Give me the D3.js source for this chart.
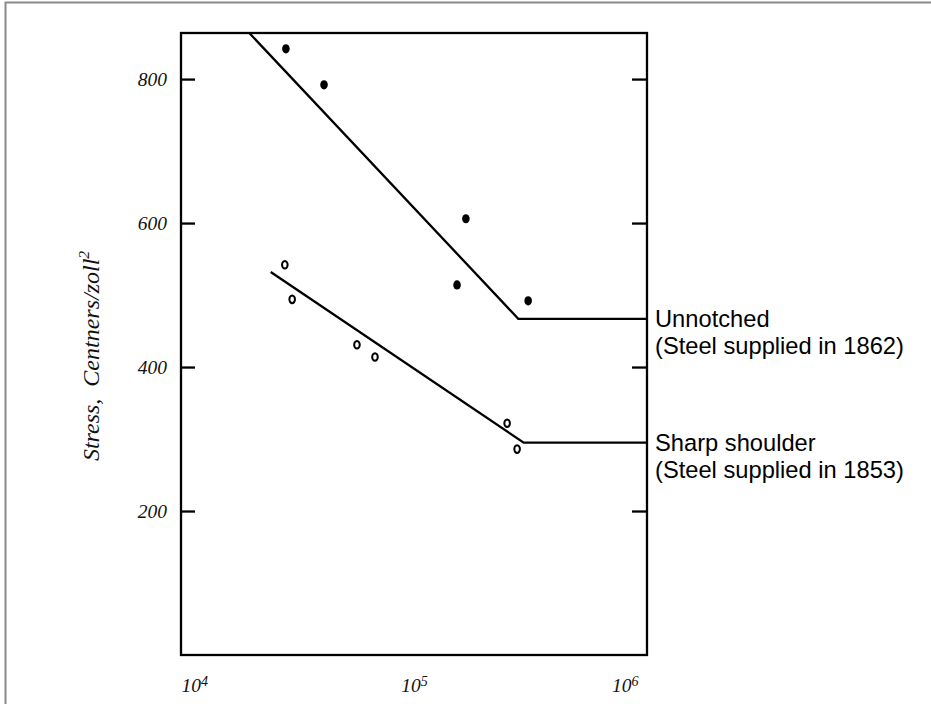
<!DOCTYPE html>
<html>
<head>
<meta charset="utf-8">
<script src="https://cdn.jsdelivr.net/npm/d3@7"></script>
<style>
	body { margin: 0; background: #fff; }
	svg { display: block; }
</style>
</head>
<body>
<script>
// Fatigue test data (cycles to failure vs stress)
const unnotchedCycles = [28200, 41100, 167000, 153000, 309000];
const unnotchedStress = [842, 792, 606, 514, 492];
const shoulderCycles = [27900, 30000, 56900, 68000, 251000, 277000];
const shoulderStress = [542, 494, 431, 414, 322, 286];

// Fitted lines (knee then endurance limit)
const unnotchedFitCycles = [19640, 280300, 1000000];
const unnotchedFitStress = [864, 467, 467];
const shoulderFitCycles = [24270, 295700, 1000000];
const shoulderFitStress = [532, 295, 295];

const yTicks = [200, 400, 600, 800];
const xTicks = [1e4, 1e5, 1e6];
const xTickExp = ["4", "5", "6"];
const unnotchedLabel = ["Unnotched", "(Steel supplied in 1862)"];
const shoulderLabel = ["Sharp shoulder", "(Steel supplied in 1853)"];

const w = 931;
const h = 704;
const box = { left: 181, right: 647, top: 33, bottom: 655 };

const svg = d3.select("body").append("svg").attr("width", w).attr("height", h);

// outer frame
svg.append("rect")
	.attr("x", 5.5)
	.attr("y", 2.5)
	.attr("width", 1000)
	.attr("height", 1000)
	.attr("fill", "none")
	.attr("stroke", "#8a8a8a")
	.attr("stroke-width", 2);

const xScale = d3.scaleLog().domain([1e4, 1e6]).range([box.left, box.right]);
const yScale = d3.scaleLinear().domain([0, 864]).range([box.bottom, box.top]);

// plot box
svg.append("rect")
	.attr("x", box.left)
	.attr("y", box.top)
	.attr("width", box.right - box.left)
	.attr("height", box.bottom - box.top)
	.attr("fill", "none")
	.attr("stroke", "#000")
	.attr("stroke-width", 2.3);

// left axis with inward ticks
const yAxis = d3.axisLeft(yScale).tickValues(yTicks).tickSize(-14).tickPadding(14);
const gy = svg.append("g").attr("transform", `translate(${box.left},0)`).call(yAxis);
gy.select(".domain").remove();
gy.selectAll("line").attr("stroke", "#000").attr("stroke-width", 2.3);
gy.selectAll("text")
	.attr("font-family", "Liberation Serif, serif")
	.attr("font-style", "italic")
	.attr("font-size", 19.5)
	.attr("fill", "#111");

// right axis, ticks only
const yAxisR = d3.axisRight(yScale).tickValues(yTicks).tickSize(-15).tickFormat("");
const gyr = svg.append("g").attr("transform", `translate(${box.right},0)`).call(yAxisR);
gyr.select(".domain").remove();
gyr.selectAll("line").attr("stroke", "#000").attr("stroke-width", 2.3);

// bottom axis, labels only
const xAxis = d3.axisBottom(xScale).tickValues(xTicks).tickSize(0).tickPadding(23).tickFormat("");
const gx = svg.append("g").attr("transform", `translate(0,${box.bottom})`).call(xAxis);
gx.select(".domain").remove();
gx.selectAll("text").each(function (d, i) {
	const t = d3.select(this)
		.attr("font-family", "Liberation Serif, serif")
		.attr("font-style", "italic")
		.attr("font-size", 19.5)
		.attr("fill", "#111")
		.attr("text-anchor", i === 0 ? "start" : i === 1 ? "middle" : "end")
		.attr("dx", i === 2 ? -9 : 0);
	t.append("tspan").text("10");
	t.append("tspan").attr("font-size", 14).attr("dy", -6).text(xTickExp[i]);
});

// y axis title
const ytitle = svg.append("text")
	.attr("transform", `translate(99,356) rotate(-90)`)
	.attr("text-anchor", "middle")
	.attr("font-family", "Liberation Serif, serif")
	.attr("font-style", "italic")
	.attr("font-size", 24)
	.attr("fill", "#111");
ytitle.append("tspan").attr("xml:space", "preserve").text("Stress,  Centners/zoll");
ytitle.append("tspan").attr("font-size", 15.5).attr("dy", -10).text("2");

// fitted lines
const line = d3.line().x((d) => xScale(d[0])).y((d) => yScale(d[1]));
const fits = [
	d3.zip(unnotchedFitCycles, unnotchedFitStress),
	d3.zip(shoulderFitCycles, shoulderFitStress),
];
svg.selectAll("path.fit")
	.data(fits)
	.enter()
	.append("path")
	.attr("class", "fit")
	.attr("d", line)
	.attr("fill", "none")
	.attr("stroke", "#000")
	.attr("stroke-width", 2.3);

// unnotched points (filled)
svg.selectAll("ellipse.unnotched")
	.data(d3.zip(unnotchedCycles, unnotchedStress))
	.enter()
	.append("ellipse")
	.attr("class", "unnotched")
	.attr("cx", (d) => xScale(d[0]))
	.attr("cy", (d) => yScale(d[1]))
	.attr("rx", 3.8)
	.attr("ry", 4.6)
	.attr("fill", "#000");

// sharp shoulder points (open)
svg.selectAll("ellipse.shoulder")
	.data(d3.zip(shoulderCycles, shoulderStress))
	.enter()
	.append("ellipse")
	.attr("class", "shoulder")
	.attr("cx", (d) => xScale(d[0]))
	.attr("cy", (d) => yScale(d[1]))
	.attr("rx", 2.8)
	.attr("ry", 3.8)
	.attr("fill", "#fff")
	.attr("stroke", "#000")
	.attr("stroke-width", 2);

// series labels at the end of each line
function seriesLabel(lines, stress) {
	const t = svg.append("text")
		.attr("x", xScale(1e6) + 8)
		.attr("y", yScale(stress) + 8)
		.attr("font-family", "Liberation Sans, Arial, sans-serif")
		.attr("font-size", 23.7)
		.attr("fill", "#000");
	lines.forEach((s, i) => {
		t.append("tspan")
			.attr("x", xScale(1e6) + 8)
			.attr("dy", i === 0 ? 0 : 27)
			.text(s);
	});
}
seriesLabel(unnotchedLabel, unnotchedFitStress[2]);
seriesLabel(shoulderLabel, shoulderFitStress[2]);
</script>
</body>
</html>
